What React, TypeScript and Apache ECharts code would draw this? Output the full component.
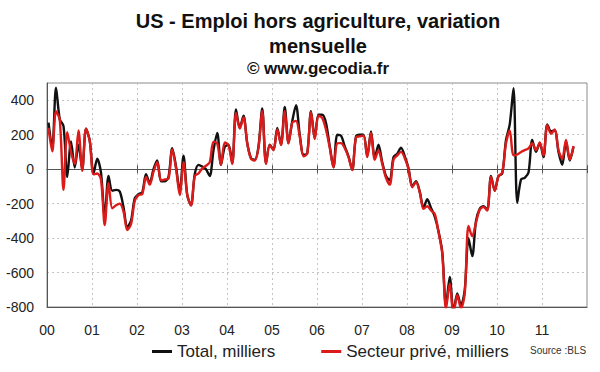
import React, { useEffect, useRef } from 'react';
import * as echarts from 'echarts';

// Monthly change in US nonfarm payrolls, thousands, Jan 2000 – Sep 2011
const yearLabels = ['00', '01', '02', '03', '04', '05', '06', '07', '08', '09', '10', '11'];
const yTickLabels = [-800, -600, -400, -200, 0, 200, 400];
const seriesNames = ['Total, milliers', 'Secteur privé, milliers'];

const totalChange = [
  // 2000
  270, 120, 472, 290, 250, -45, 161, 10, 142, 0, 235, 165,
  // 2001
  -25, 60, -20, -280, -40, -125, -120, -130, -220, -335, -300, -170,
  // 2002
  -145, -135, -30, -80, 0, 50, -70, -70, -45, 122, 15, -130,
  // 2003
  78, -150, -210, -30, 25, 15, 0, -40, 110, 210, 25, 130,
  // 2004
  142, 35, 346, 240, 310, 150, 64, 54, 132, 352, 35, 142,
  // 2005
  113, 239, 142, 361, 151, 278, 371, 200, 84, 93, 336, 181,
  // 2006
  316, 316, 268, 132, 12, 200, 194, 132, 74, -4, 190, 200,
  // 2007
  200, 74, 219, 64, 142, 40, -40, -65, 70, 90, 125, 75,
  // 2008
  5, -100, -70, -130, -225, -175, -225, -275, -360, -480, -790, -625,
  // 2009
  -830, -722, -790, -700, -400, -505, -300, -230, -215, -235, -40, -125,
  // 2010
  -40, -25, 170, 260, 470, -195, -60, -50, -20, 170, 100, 150,
  // 2011
  70, 260, 220, 225, 100, 25, 160, 50, 130,
];

const privateChange = [
  // 2000
  239, 103, 336, 287, -120, 215, 100, 30, 225, -10, 235, 165,
  // 2001
  -30, -25, -60, -324, -80, -227, -210, -200, -245, -353, -320, -185,
  // 2002
  -150, -145, -45, -90, -15, 40, -65, -60, -55, 115, 5, -150,
  // 2003
  40, -150, -210, -40, -25, 5, 20, 40, 160, 150, 25, 155,
  // 2004
  140, 30, 326, 235, 300, 150, 60, 50, 125, 336, 30, 140,
  // 2005
  110, 230, 140, 336, 150, 270, 280, 190, 75, 90, 330, 175,
  // 2006
  310, 297, 229, 125, 10, 150, 151, 122, 70, -5, 185, 190,
  // 2007
  195, 70, 210, 55, 110, 30, -50, -90, 55, 80, 100, 65,
  // 2008
  0, -105, -75, -135, -230, -215, -240, -260, -365, -490, -810, -664,
  // 2009
  -840, -730, -810, -720, -330, -390, -310, -235, -220, -240, -45, -125,
  // 2010
  -40, -20, 150, 225, 80, 85, 100, 110, 120, 150, 110, 155,
  // 2011
  80, 255, 205, 230, 110, 60, 170, 55, 135,
];

const FONT = "'Liberation Sans', Arial, Helvetica, sans-serif";

export default function App() {
  const ref = useRef<HTMLDivElement>(null);

  useEffect(() => {
    if (!ref.current) return;
    const chart = echarts.init(ref.current, null, { renderer: 'svg' });
    const months = yearLabels.length * 12;
    const toPoints = (arr: number[]) => arr.map((v, i) => [i + 0.4, v]);
    const gridLine = { color: '#c4c4c4', width: 1, type: [2, 3] as number[] };
    const xBase = { type: 'value' as const, min: 0, max: months, interval: 12, gridIndex: 0 };

    chart.setOption({
      animation: false,
      backgroundColor: '#ffffff',
      textStyle: { fontFamily: FONT },
      title: [
        {
          text: 'US - Emploi hors agriculture, variation\nmensuelle',
          left: 318,
          top: 9,
          textAlign: 'center',
          padding: 0,
          textStyle: { fontFamily: FONT, fontSize: 20, fontWeight: 'bold', color: '#111', lineHeight: 24.5 },
        },
        {
          text: '© www.gecodia.fr',
          left: 318,
          top: 58,
          textAlign: 'center',
          padding: 0,
          textStyle: { fontFamily: FONT, fontSize: 17, fontWeight: 'bold', color: '#111', lineHeight: 20 },
        },
      ],
      grid: {
        left: 47,
        right: 13,
        top: 83,
        bottom: 65,
        show: true,
        borderColor: '#8a8a8a',
        borderWidth: 1,
      },
      legend: {
        data: seriesNames,
        left: 152,
        top: 343,
        icon: 'rect',
        itemWidth: 20,
        itemHeight: 3,
        itemGap: 46,
        padding: 0,
        textStyle: { fontFamily: FONT, fontSize: 17, color: '#222' },
      },
      xAxis: [
        {
          ...xBase,
          position: 'bottom',
          axisLine: { show: true, onZero: false, lineStyle: { color: '#555' } },
          axisTick: { show: false },
          axisLabel: {
            formatter: (v: number) => yearLabels[v / 12] ?? '',
            fontSize: 14,
            color: '#222',
            margin: 16,
            fontFamily: FONT,
          },
          splitLine: { show: true, lineStyle: gridLine },
        },
        {
          ...xBase,
          position: 'bottom',
          axisLine: { show: true, onZero: true, onZeroAxisIndex: 0, lineStyle: { color: '#555' } },
          axisTick: { show: true, inside: true, length: 4, lineStyle: { color: '#555' } },
          axisLabel: { show: false },
          splitLine: { show: false },
        },
        {
          ...xBase,
          position: 'bottom',
          axisLine: { show: true, onZero: true, onZeroAxisIndex: 0, lineStyle: { color: '#555' } },
          axisTick: { show: true, inside: false, length: 4, lineStyle: { color: '#555' } },
          axisLabel: { show: false },
          splitLine: { show: false },
        },
      ],
      yAxis: {
        type: 'value',
        min: -800,
        max: 500,
        interval: 200,
        axisLine: { show: true, onZero: false, lineStyle: { color: '#555' } },
        axisTick: { show: false },
        axisLabel: {
          formatter: (v: number) => (yTickLabels.includes(v) ? String(v) : ''),
          fontSize: 14,
          color: '#222',
          margin: 13,
          fontFamily: FONT,
        },
        splitLine: { show: true, lineStyle: gridLine },
      },
      series: [
        {
          name: seriesNames[0],
          type: 'line',
          xAxisIndex: 0,
          data: toPoints(totalChange),
          symbol: 'none',
          showSymbol: false,
          smooth: 0.3,
          lineStyle: { color: '#111111', width: 2.4 },
          itemStyle: { color: '#111111' },
        },
        {
          name: seriesNames[1],
          type: 'line',
          xAxisIndex: 0,
          data: toPoints(privateChange),
          symbol: 'none',
          showSymbol: false,
          smooth: 0.3,
          lineStyle: { color: '#dc1a1a', width: 2.4 },
          itemStyle: { color: '#dc1a1a' },
        },
      ],
      graphic: [
        {
          type: 'text',
          left: 530,
          top: 345,
          style: { text: 'Source :BLS', fontSize: 10, fill: '#333', fontFamily: FONT },
        },
      ],
    });

    return () => chart.dispose();
  }, []);

  return (
    <div
      ref={ref}
      style={{ position: 'absolute', left: 0, top: 0, width: 600, height: 372, background: '#fff' }}
    />
  );
}
